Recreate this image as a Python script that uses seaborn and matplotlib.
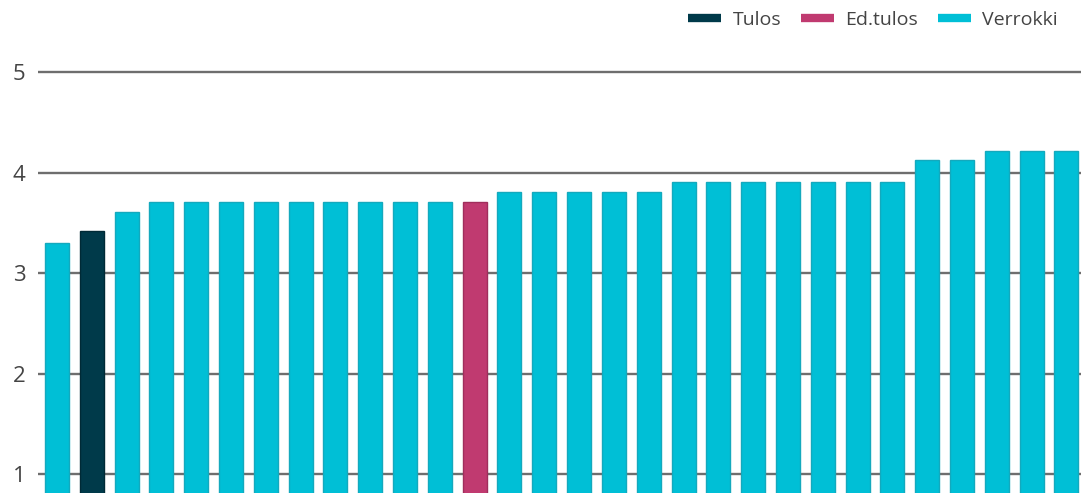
import matplotlib
matplotlib.use("Agg")
import matplotlib.pyplot as plt
from matplotlib.lines import Line2D
import seaborn as sns
import pandas as pd

# ---- data ----
values = [3.3, 3.42, 3.61, 3.71, 3.71, 3.71, 3.71, 3.71, 3.71, 3.71, 3.71, 3.71, 3.71,
          3.81, 3.81, 3.81, 3.81, 3.81, 3.91, 3.91, 3.91, 3.91, 3.91, 3.91, 3.91,
          4.13, 4.13, 4.22, 4.22, 4.22]
groups = ["Verrokki", "Tulos", "Verrokki"] + ["Verrokki"] * 9 + ["Ed.tulos"] + ["Verrokki"] * 17
series_names = ["Tulos", "Ed.tulos", "Verrokki"]
series_colors = ["#003a4a", "#c03a70", "#00bfd6"]
edge_colors = ["#002a36", "#a02e5c", "#14a9bd"]
y_ticks = [1, 2, 3, 4, 5]

labels = [f"k{i}" for i in range(len(values))]
df = pd.DataFrame({"kohde": labels, "arvo": values, "ryhma": groups})
palette = dict(zip(series_names, series_colors))
edge_map = dict(zip(series_names, edge_colors))

sns.set_theme(style="white")
plt.rcParams["font.family"] = ["Open Sans", "DejaVu Sans"]

fig = plt.figure(figsize=(10.81, 4.93), dpi=100)
ax = fig.add_axes([38 / 1081, 0, 1 - 38 / 1081, 1])

sns.barplot(data=df, x="kohde", y="arvo", hue="ryhma", order=labels,
            hue_order=series_names, palette=palette, dodge=False,
            width=0.69, legend=False, ax=ax, saturation=1)

# set edge colors according to group
bars = [p for p in ax.patches if p.get_height() > 0]
bars.sort(key=lambda p: p.get_x())
for p, g in zip(bars, groups):
    p.set_edgecolor(edge_map[g])
    p.set_linewidth(1.0)

ax.set_xlim(-0.546, 29.42)
ax.set_ylim(0.81, 5.72)
ax.set_yticks(y_ticks)
ax.set_yticklabels([str(t) for t in y_ticks])
ax.set_xticks([])
ax.set_xlabel("")
ax.set_ylabel("")
ax.yaxis.grid(True, color="#6e6e6e", linewidth=1.7)
ax.set_axisbelow(True)
ax.tick_params(axis="y", length=0, pad=9, labelsize=16, labelcolor="#444444")
for s in ax.spines.values():
    s.set_visible(False)

handles = [Line2D([0], [0], color=c, lw=6, solid_capstyle="butt") for c in series_colors]
fig.legend(handles, series_names, loc="center right",
           bbox_to_anchor=(1058 / 1081, 1 - 20 / 493), ncol=3, frameon=False,
           fontsize=14, labelcolor="#444444", handlelength=1.7,
           handletextpad=0.6, columnspacing=1.0, borderpad=0, borderaxespad=0)

fig.savefig("out.png", dpi=100)
